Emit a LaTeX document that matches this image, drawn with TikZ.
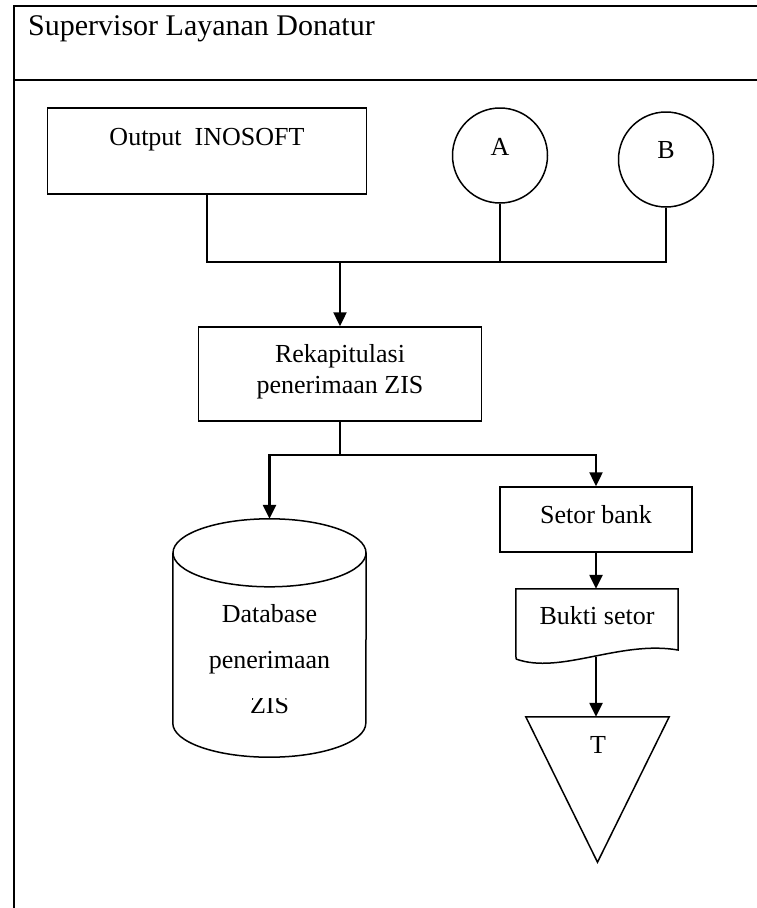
\documentclass[tikz,border=0pt]{standalone}
\usepackage{fontspec}
\setmainfont{Liberation Serif}
\usetikzlibrary{arrows.meta}
\begin{document}
\begin{tikzpicture}[x=1pt,y=-1pt,
  box/.style={draw, line width=1.5pt, inner sep=0pt},
  ghost/.style={inner sep=0pt},
  txt/.style={anchor=base, inner sep=0pt, font=\fontsize{26}{31}\selectfont},
  shapeline/.style={line width=1.5pt, line join=miter},
  conn/.style={line width=2.4pt},
  thinconn/.style={line width=1.5pt},
  arr/.style={line width=2.4pt, -{Triangle[width=13pt,length=14pt]}},
  frameline/.style={line width=2.2pt}]
\useasboundingbox (0,0) rectangle (757,908);
% frame and header
\draw[frameline] (757,6) -- (14,6) -- (14,908);
\draw[frameline] (14,80) -- (757,80);
\node[anchor=base west, inner sep=0pt, font=\fontsize{30}{36}\selectfont] (title) at (28,35) {Supervisor Layanan Donatur};

% top row
\node[box, minimum width=319pt, minimum height=86pt] (out) at (207,151) {};
\node[txt] (outT) at (207,145) {Output\ \ INOSOFT};
\node[draw, circle, line width=1.5pt, minimum size=95pt, inner sep=0pt] (A) at (500,155.5) {};
\node[txt] (AT) at (500,155) {A};
\node[draw, circle, line width=1.5pt, minimum size=95pt, inner sep=0pt] (B) at (666,159.5) {};
\node[txt] (BT) at (666,158) {B};

% rekap
\node[box, minimum width=283pt, minimum height=94pt] (rek) at (340,374) {};
\node[txt] (rk1) at (340,362) {Rekapitulasi};
\node[txt] (rk2) at (340,393) {penerimaan ZIS};

\coordinate (j) at (340,262);
\draw[conn] (out.south) |- (j);
\draw[thinconn] (A.south) -- (A.south |- j);
\draw[thinconn] (j) -| (B.south);
\draw[arr] (j) -- (rek.north);

% database cylinder
\node[ghost, minimum width=193pt, minimum height=238pt] (db) at (269.5,638) {};
\draw[shapeline] ([yshift=-34pt]db.north west) -- ([yshift=34pt]db.south west)
  arc[start angle=180, end angle=360, x radius=96.5pt, y radius=34pt]
  -- ([yshift=-34pt]db.north east);
\draw[shapeline] ([yshift=-34pt]db.north) ellipse [x radius=96.5pt, y radius=34pt];
\node[txt] (db1) at (269.5,622) {Database};
\node[txt] (db2) at (269.5,668) {penerimaan};
\begin{scope}
\clip (180,698) rectangle (360,730);
\node[txt] (db3) at (269.5,713) {ZIS};
\end{scope}

% setor bank
\node[box, minimum width=192pt, minimum height=65pt] (setor) at (596,519.5) {};
\node[txt] (setorT) at (596,523) {Setor bank};

% bukti setor (document)
\node[ghost, minimum width=162pt, minimum height=71pt] (bk) at (597,624.5) {};
\draw[shapeline] (516,659) -- (bk.north west) -- (bk.north east) -- (678,650)
  .. controls (620,640) and (560,675) .. (516,659);
\node[txt] (bkT) at (597,624) {Bukti setor};

% triangle
\node[ghost, minimum width=143pt, minimum height=145pt] (tri) at (597.5,789.5) {};
\draw[shapeline] (tri.north west) -- (tri.north east) -- (tri.south) -- cycle;
\node[txt] (triT) at (598,753) {T};

\coordinate (s) at (340,455);
\draw[conn] (rek.south) -- (s);
\draw[arr] (s) -| (db.north);
\draw[arr] (s) -| (setor.north);
\draw[arr] (setor.south) -- (setor.south |- bk.north);
\draw[arr] ([yshift=3pt]bk.south -| setor.south) -- (setor.south |- tri.north);
\end{tikzpicture}
\end{document}
